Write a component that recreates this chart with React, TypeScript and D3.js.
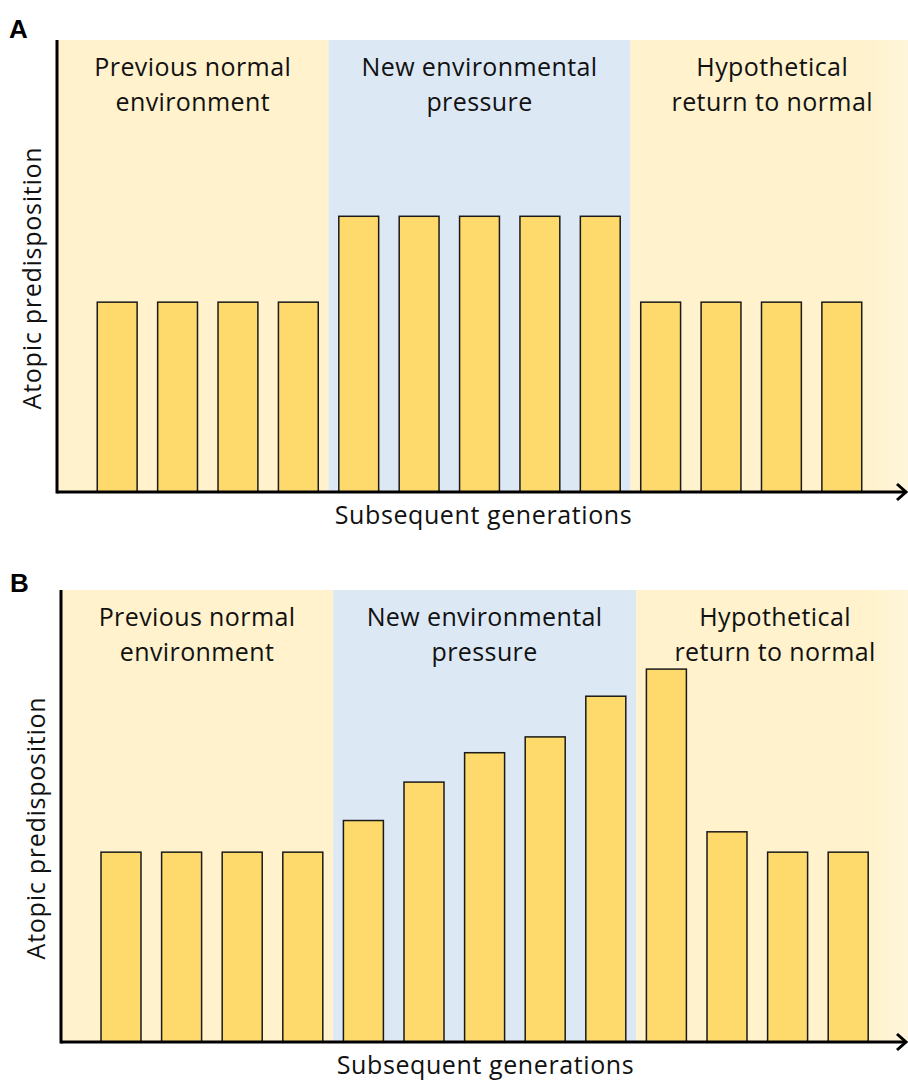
import { useEffect, useRef } from 'react';
import * as d3 from 'd3';

// generations along the x axis
const generations = ['1', '2', '3', '4', '5', '6', '7', '8', '9', '10', '11', '12', '13'];

// atopic predisposition (arbitrary units, 0-100)
const panelAValues = [42, 42, 42, 42, 61, 61, 61, 61, 61, 42, 42, 42, 42];
const panelBValues = [42, 42, 42, 42, 49, 57.5, 64, 67.5, 76.5, 82.5, 46.5, 42, 42];

// phases: first and last generation index of each
const phaseNames = ['normal', 'pressure', 'return'];
const phaseFirst = [0, 4, 9];
const phaseLast = [3, 8, 12];
const phaseLabels = [
  ['Previous normal', 'environment'],
  ['New environmental', 'pressure'],
  ['Hypothetical', 'return to normal'],
];

const panelLetters = ['A', 'B'];
const xTitle = 'Subsequent generations';
const yTitle = 'Atopic predisposition';

const W = 908;
const H = 1082;
const FONT = "'Open Sans', 'DejaVu Sans', sans-serif";
const FS = 25;
const LS = 0.6;
const phaseFill = { normal: '#fff2cc', pressure: '#dde8f5', return: '#fff2cc' };

function drawPanel(svg, letter, values, o) {
  const g = svg.append('g');
  const plotH = o.baseline - o.top;

  const x = d3.scaleBand().domain(generations).range([o.barStart, o.barEnd]).paddingInner(0.34).paddingOuter(0.17);
  const y = d3.scaleLinear().domain([0, 100]).range([o.baseline, o.top]);
  const gap = x.step() - x.bandwidth();

  // phase backgrounds
  const edges = phaseNames.map((p, i) => {
    const left = i === 0 ? o.axisX : x(generations[phaseFirst[i]]) - gap / 2;
    const right = i === phaseNames.length - 1 ? W : x(generations[phaseLast[i]]) + x.bandwidth() + gap / 2;
    return { p, i, left, right };
  });

  g.selectAll('rect.phase')
    .data(edges)
    .join('rect')
    .attr('class', 'phase')
    .attr('x', (d) => d.left)
    .attr('y', o.top)
    .attr('width', (d) => d.right - d.left)
    .attr('height', plotH)
    .attr('fill', (d) => (d.i === 2 ? `url(#fade${letter})` : phaseFill[d.p]));

  const grad = svg.select('defs').append('linearGradient').attr('id', `fade${letter}`);
  grad.append('stop').attr('offset', '0.85').attr('stop-color', '#fff2cc');
  grad.append('stop').attr('offset', '1').attr('stop-color', '#fff5da');

  // phase labels
  edges.forEach((d) => {
    const t = g.append('text')
      .attr('text-anchor', 'middle')
      .attr('font-family', FONT)
      .attr('font-size', FS)
      .attr('letter-spacing', 0.4)
      .attr('fill', '#111');
    phaseLabels[d.i].forEach((line, k) => {
      t.append('tspan')
        .attr('x', (d.left + d.right) / 2 + (d.i === 2 ? 3 : 0))
        .attr('y', o.top + 36 + k * 35)
        .text(line);
    });
  });

  // bars
  g.selectAll('rect.bar')
    .data(values)
    .join('rect')
    .attr('class', 'bar')
    .attr('x', (d, i) => x(generations[i]))
    .attr('y', (d) => y(d))
    .attr('width', x.bandwidth())
    .attr('height', (d) => o.baseline - y(d))
    .attr('fill', '#fed96c')
    .attr('stroke', '#1a1a1a')
    .attr('stroke-width', 1.5);

  // axes
  g.append('line')
    .attr('x1', o.axisX).attr('x2', o.axisX)
    .attr('y1', o.top).attr('y2', o.baseline + 1.5)
    .attr('stroke', '#000').attr('stroke-width', 3);
  g.append('line')
    .attr('x1', o.axisX).attr('x2', W - 2)
    .attr('y1', o.baseline).attr('y2', o.baseline)
    .attr('stroke', '#000').attr('stroke-width', 3);
  g.append('path')
    .attr('d', d3.line()([[W - 11, o.baseline - 8], [W - 2, o.baseline], [W - 11, o.baseline + 8]]))
    .attr('fill', 'none')
    .attr('stroke', '#000')
    .attr('stroke-width', 3);

  // titles
  g.append('text')
    .attr('x', (o.axisX + W) / 2 + 1)
    .attr('y', o.baseline + 32)
    .attr('text-anchor', 'middle')
    .attr('font-family', FONT)
    .attr('font-size', FS)
    .attr('letter-spacing', LS)
    .attr('fill', '#111')
    .text(xTitle);

  g.append('text')
    .attr('transform', `translate(${o.axisX - 16}, ${o.top + 238}) rotate(-90)`)
    .attr('text-anchor', 'middle')
    .attr('font-family', FONT)
    .attr('font-size', FS)
    .attr('letter-spacing', 0.75)
    .attr('fill', '#111')
    .text(yTitle);

  g.append('text')
    .attr('x', o.letterX)
    .attr('y', o.letterY)
    .attr('font-family', "Arial, 'Liberation Sans', sans-serif")
    .attr('font-weight', 'bold')
    .attr('font-size', 26)
    .attr('fill', '#000')
    .text(letter);
}

export default function App() {
  const ref = useRef(null);

  useEffect(() => {
    const svg = d3.select(ref.current);
    svg.selectAll('*').remove();
    svg.append('defs');

    drawPanel(svg, panelLetters[0], panelAValues, {
      axisX: 57, top: 40, baseline: 492, barStart: 87, barEnd: 872, letterX: 9, letterY: 38,
    });
    drawPanel(svg, panelLetters[1], panelBValues, {
      axisX: 61, top: 590, baseline: 1042, barStart: 90.7, barEnd: 878.5, letterX: 10, letterY: 592,
    });
  }, []);

  return (
    <svg
      ref={ref}
      width={W}
      height={H}
      style={{ position: 'absolute', left: 0, top: 0, background: '#fff' }}
    />
  );
}
